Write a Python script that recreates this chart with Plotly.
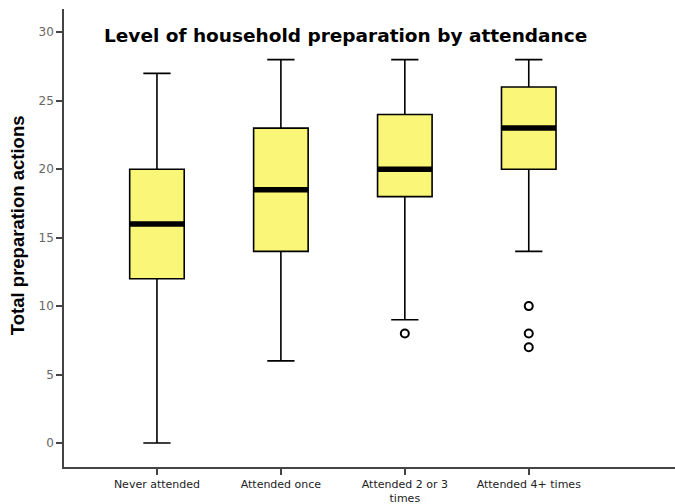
import plotly.graph_objects as go

categories = ["Never attended", "Attended once", "Attended 2 or 3<br>times", "Attended 4+ times"]
lower = [0, 6, 9, 14]
q1 = [12, 14, 18, 20]
median = [16, 18.5, 20, 23]
q3 = [20, 23, 24, 26]
upper = [27, 28, 28, 28]
outliers = [[], [], [8], [10, 8, 7]]
yticks = [0, 5, 10, 15, 20, 25, 30]

xs = list(range(len(categories)))
BOXW = 0.44

fig = go.Figure()
fig.add_trace(go.Box(
    x=xs, q1=q1, median=median, q3=q3, lowerfence=lower, upperfence=upper,
    fillcolor="#FAF677", line=dict(color="black", width=1.6),
    whiskerwidth=0.5, width=BOXW, boxpoints=False, showlegend=False,
    hoverinfo="skip"))

for i in xs:
    fig.add_trace(go.Scatter(
        x=[i - BOXW / 2, i + BOXW / 2], y=[median[i], median[i]], mode="lines",
        line=dict(color="black", width=5.5), showlegend=False, hoverinfo="skip"))
    if outliers[i]:
        fig.add_trace(go.Scatter(
            x=[i] * len(outliers[i]), y=outliers[i], mode="markers",
            marker=dict(symbol="circle-open", size=8, color="black",
                        line=dict(width=2, color="black")),
            showlegend=False, hoverinfo="skip"))

fig.add_annotation(text="<b>Level of household preparation by attendance</b>",
                   xref="paper", yref="paper", x=0.062, y=0.942,
                   xanchor="left", yanchor="middle", showarrow=False,
                   font=dict(family="DejaVu Sans", size=18.5, color="black"))

fig.add_annotation(text="<b>Total preparation actions</b>", textangle=-90,
                   xref="paper", yref="paper", x=-0.077, y=0.528,
                   xanchor="center", yanchor="middle", showarrow=False,
                   font=dict(family="Liberation Sans, Arial", size=18.5, color="black"))

fig.update_layout(
    width=675, height=504,
    margin=dict(l=64, r=0, t=9, b=37),
    plot_bgcolor="white", paper_bgcolor="white",
    xaxis=dict(range=[-0.75, 4.18], tickmode="array", tickvals=xs, ticktext=categories,
               showline=True, linecolor="#444", linewidth=1.5, ticks="outside",
               ticklen=6, tickcolor="#444", tickwidth=1.5, showgrid=False, zeroline=False,
               automargin=False,
               tickfont=dict(family="DejaVu Sans", size=11, color="#222")),
    yaxis=dict(range=[-1.75, 31.7], tickvals=yticks, showline=True, linecolor="#444",
               linewidth=1.5, ticks="outside", ticklen=6, tickcolor="#444", tickwidth=1.5,
               showgrid=False, zeroline=False, automargin=False,
               tickfont=dict(family="DejaVu Sans", size=12, color="#666")),
)

fig.write_html("out.html", post_script="document.body.style.margin='0';",
               config={"displayModeBar": False})
